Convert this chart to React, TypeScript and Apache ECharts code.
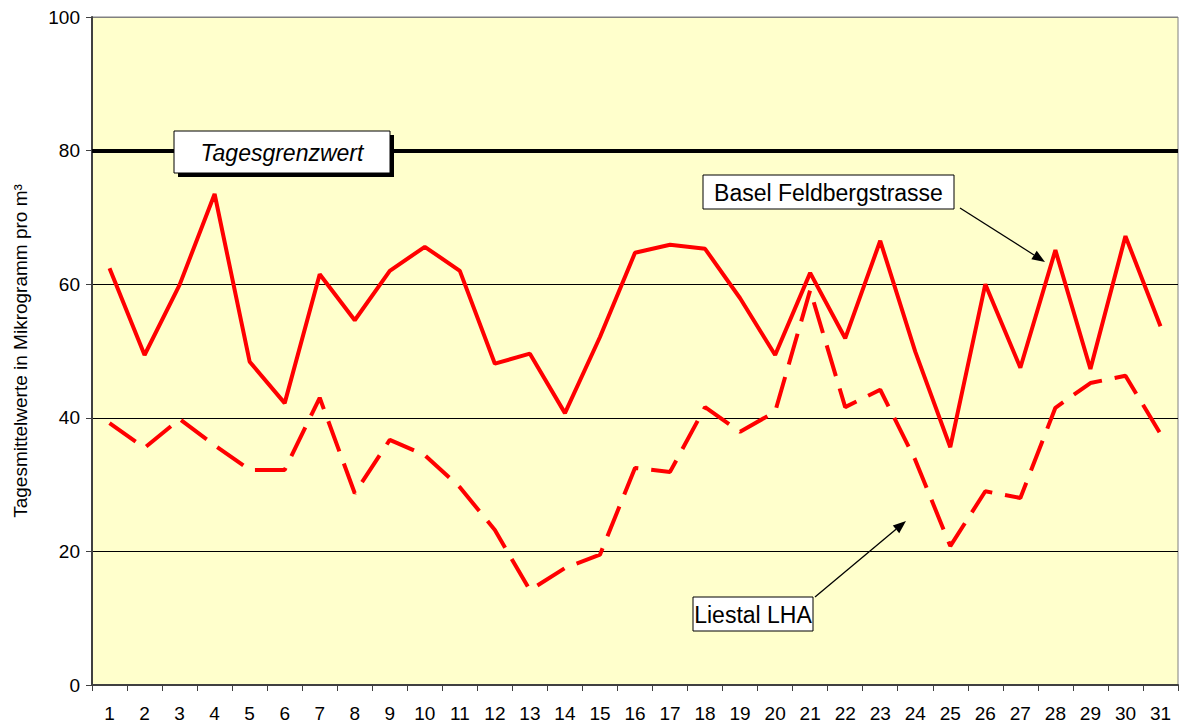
import React, { useEffect, useRef } from "react";
import * as echarts from "echarts";

const days = Array.from({ length: 31 }, (_, i) => String(i + 1));
const baselFeldbergstrasse = [
  62.4, 49.4, 59.9, 73.5, 48.4, 42.2, 61.5, 54.6, 62.0, 65.6,
  62.0, 48.1, 49.6, 40.7, 52.1, 64.7, 65.9, 65.3, 57.9, 49.4,
  61.7, 51.9, 66.5, 49.9, 35.6, 60.0, 47.5, 65.1, 47.3, 67.2, 53.7,
];
const liestalLHA = [
  39.2, 35.5, 39.8, 35.9, 32.2, 32.2, 43.0, 28.7, 36.7, 34.4,
  29.6, 23.2, 14.2, 17.5, 19.5, 32.5, 31.9, 41.6, 37.9, 40.9,
  59.1, 41.6, 44.2, 33.7, 20.8, 29.0, 28.0, 41.5, 45.2, 46.3, 37.6,
];
const tagesgrenzwert = 80;
const yTicks = [0, 20, 40, 60, 80, 100];

const FONT = "Liberation Sans, Arial, sans-serif";

function arrow(x1: number, y1: number, x2: number, y2: number) {
  const ang = Math.atan2(y2 - y1, x2 - x1);
  const L = 13, W = 5;
  const bx = x2 - L * Math.cos(ang), by = y2 - L * Math.sin(ang);
  const px = -Math.sin(ang) * W, py = Math.cos(ang) * W;
  return [
    { type: "line", shape: { x1, y1, x2: bx, y2: by }, style: { stroke: "#000", lineWidth: 1.3 }, z: 100 },
    { type: "polygon", shape: { points: [[x2, y2], [bx + px, by + py], [bx - px, by - py]] }, style: { fill: "#000" }, z: 100 },
  ];
}

function box(x: number, y: number, w: number, h: number, text: string, italic: boolean, shadow: boolean, size: number) {
  const els: any[] = [];
  if (shadow) {
    els.push({ type: "rect", shape: { x: x + 4, y: y + 4, width: w, height: h }, style: { fill: "#000" }, z: 100 });
  }
  els.push({ type: "rect", shape: { x, y, width: w, height: h }, style: { fill: "#fff", stroke: "#000", lineWidth: 1 }, z: 101 });
  els.push({
    type: "text", x: x + w / 2, y: y + h / 2 + 1, z: 102,
    style: { text, fill: "#000", font: `${italic ? "italic " : ""}${size}px ${FONT}`, align: "center", verticalAlign: "middle" },
  });
  return els;
}

export default function App() {
  const ref = useRef<HTMLDivElement>(null);
  useEffect(() => {
    const chart = echarts.init(ref.current!, null, { renderer: "svg" });
    chart.setOption({
      animation: false,
      backgroundColor: "#fff",
      grid: {
        left: 92, right: 3, top: 17, bottom: 42,
        show: true, backgroundColor: "#FFFFCC", borderColor: "#808080", borderWidth: 1,
      },
      xAxis: {
        type: "category",
        data: days,
        boundaryGap: true,
        axisLine: { lineStyle: { color: "#404040", width: 2 } },
        axisTick: { show: true, length: 6, lineStyle: { color: "#404040", width: 1 } },
        axisLabel: { color: "#000", fontSize: 19, fontFamily: FONT, margin: 19, interval: 0 },
        splitLine: { show: false },
      },
      yAxis: {
        type: "value",
        min: 0, max: 100, interval: 20,
        name: "Tagesmittelwerte in Mikrogramm pro m³",
        nameLocation: "middle",
        nameGap: 62,
        nameTextStyle: { color: "#000", fontSize: 19, fontFamily: FONT },
        axisLine: { show: true, lineStyle: { color: "#404040", width: 2 } },
        axisTick: { show: true, length: 6, lineStyle: { color: "#404040", width: 1 } },
        axisLabel: { color: "#000", fontSize: 19, fontFamily: FONT, margin: 12, formatter: (v: number) => (yTicks.includes(v) ? String(v) : "") },
        splitLine: { show: true, lineStyle: { color: ["#000", "#000", "#000", "#000", "#000", "#808080"], width: 1 } },
      },
      series: [
        {
          name: "Basel Feldbergstrasse",
          type: "line",
          data: baselFeldbergstrasse,
          symbol: "none",
          lineStyle: { color: "#FF0000", width: 4 },
          z: 5,
          markLine: {
            silent: true,
            symbol: "none",
            label: { show: false },
            lineStyle: { color: "#000", width: 4, type: "solid" },
            data: [{ yAxis: tagesgrenzwert }],
            z: 3,
          },
        },
        {
          name: "Liestal LHA",
          type: "line",
          data: liestalLHA,
          symbol: "none",
          lineStyle: { color: "#FF0000", width: 4, type: [32, 13], cap: "butt" },
          z: 4,
        },
      ],
      graphic: [
        ...box(174, 131, 216, 42, "Tagesgrenzwert", true, true, 23),
        ...box(703, 175, 251, 34, "Basel Feldbergstrasse", false, false, 23),
        ...box(693, 597, 120, 34, "Liestal LHA", false, false, 23),
        ...arrow(960, 208, 1045, 262),
        ...arrow(815, 597, 906, 521),
      ],
    });
    return () => chart.dispose();
  }, []);
  return <div ref={ref} style={{ position: "fixed", left: 0, top: 0, width: 1181, height: 727 }} />;
}
